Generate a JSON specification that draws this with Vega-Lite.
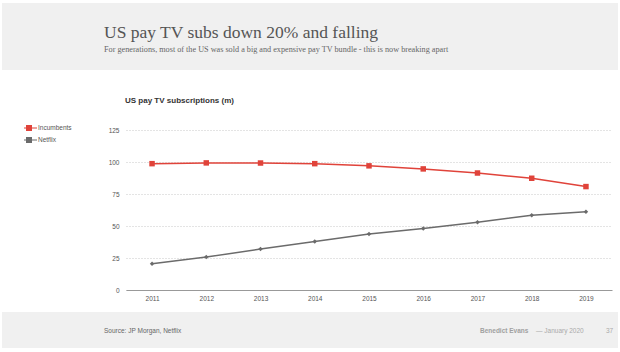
{
  "$schema": "https://vega.github.io/schema/vega-lite/v6.json",
  "background": "white",
  "padding": {"left": 2, "top": 3, "right": 2, "bottom": 4},
  "config": {
    "view": {"stroke": null},
    "font": "Liberation Sans",
    "title": {"font": "Liberation Sans"}
  },
  "spacing": 27,
  "vconcat": [
    {
      "width": 616,
      "height": 67,
      "view": {"fill": "#f0f0f0", "stroke": null},
      "title": {
        "text": "US pay TV subs down 20% and falling",
        "subtitle": "For generations, most of the US was sold a big and expensive pay TV bundle - this is now breaking apart",
        "anchor": "start",
        "frame": "group",
        "orient": "top",
        "offset": -50.5,
        "dx": 102,
        "font": "Liberation Serif",
        "fontSize": 17.5,
        "fontWeight": "normal",
        "color": "#555555",
        "subtitleFont": "Liberation Serif",
        "subtitleFontSize": 8.2,
        "subtitleColor": "#666666",
        "subtitlePadding": 5
      },
      "data": {"values": [{}]},
      "mark": {"type": "text"},
      "encoding": {"text": {"value": ""}}
    },
    {
      "spacing": 10,
      "vconcat": [
        {
          "spacing": 0,
          "hconcat": [
            {
              "width": 106,
              "height": 1,
              "data": {"values": [{}]},
              "mark": {"type": "text"},
              "encoding": {"text": {"value": ""}}
            },
            {
              "width": 486,
              "height": 160,
              "title": {
                "text": "US pay TV subscriptions (m)",
                "anchor": "start",
                "frame": "group",
                "fontSize": 8,
                "fontWeight": "bold",
                "color": "#333333",
                "offset": 22,
                "dx": -1
              },
              "data": {
                "values": [
                  {"year": "2011", "series": "Incumbents", "value": 98.7},
                  {"year": "2012", "series": "Incumbents", "value": 99.3},
                  {"year": "2013", "series": "Incumbents", "value": 99.2},
                  {"year": "2014", "series": "Incumbents", "value": 98.7},
                  {"year": "2015", "series": "Incumbents", "value": 97.0},
                  {"year": "2016", "series": "Incumbents", "value": 94.6},
                  {"year": "2017", "series": "Incumbents", "value": 91.4},
                  {"year": "2018", "series": "Incumbents", "value": 87.3},
                  {"year": "2019", "series": "Incumbents", "value": 80.8},
                  {"year": "2011", "series": "Netflix", "value": 20.5},
                  {"year": "2012", "series": "Netflix", "value": 25.7},
                  {"year": "2013", "series": "Netflix", "value": 32.0},
                  {"year": "2014", "series": "Netflix", "value": 37.9},
                  {"year": "2015", "series": "Netflix", "value": 43.7},
                  {"year": "2016", "series": "Netflix", "value": 48.1},
                  {"year": "2017", "series": "Netflix", "value": 53.0},
                  {"year": "2018", "series": "Netflix", "value": 58.4},
                  {"year": "2019", "series": "Netflix", "value": 61.1}
                ]
              },
              "encoding": {
                "x": {
                  "field": "year",
                  "type": "ordinal",
                  "scale": {"type": "point", "padding": 0.48},
                  "axis": {
                    "title": null,
                    "labelAngle": 0,
                    "ticks": false,
                    "labelPadding": 5,
                    "labelFontSize": 6.5,
                    "labelColor": "#555555",
                    "domainColor": "#999999",
                    "domainWidth": 1,
                    "grid": false
                  }
                },
                "y": {
                  "field": "value",
                  "type": "quantitative",
                  "scale": {"domain": [0, 125], "nice": false},
                  "axis": {
                    "title": null,
                    "values": [0, 25, 50, 75, 100, 125],
                    "domain": false,
                    "ticks": false,
                    "labelPadding": 7,
                    "labelFontSize": 6.5,
                    "labelColor": "#555555",
                    "gridColor": "#c8c8c8",
                    "gridDash": [1, 2],
                    "gridWidth": 1
                  }
                },
                "color": {
                  "field": "series",
                  "type": "nominal",
                  "scale": {"domain": ["Incumbents", "Netflix"], "range": ["#e0433a", "#6b6b6b"]},
                  "legend": {
                    "title": null,
                    "orient": "none",
                    "legendX": 22,
                    "legendY": 121,
                    "padding": 0,
                    "symbolType": "M-2,0L2,0M-0.6,-0.6L0.6,-0.6L0.6,0.6L-0.6,0.6Z",
                    "symbolSize": 64,
                    "symbolStrokeWidth": 1.2,
                    "labelFontSize": 6.5,
                    "labelColor": "#555555",
                    "labelOffset": 4,
                    "clipHeight": 8,
                    "rowPadding": 4
                  }
                }
              },
              "layer": [
                {"mark": {"type": "line", "strokeWidth": 1.5}},
                {
                  "transform": [{"filter": "datum.series === 'Incumbents'"}],
                  "mark": {"type": "point", "filled": true, "opacity": 1, "shape": "square", "size": 30}
                },
                {
                  "transform": [{"filter": "datum.series === 'Netflix'"}],
                  "mark": {"type": "point", "filled": true, "opacity": 1, "shape": "diamond", "size": 20}
                }
              ]
            }
          ]
        },
        {
          "spacing": 0,
          "hconcat": [
            {
              "width": 478,
              "height": 36,
              "view": {"fill": "#f0f0f0", "stroke": null},
              "title": {
                "text": "Source: JP Morgan, Netflix",
                "anchor": "start",
                "frame": "group",
                "orient": "top",
                "offset": -22,
                "dx": 102,
                "fontSize": 6.5,
                "fontWeight": "normal",
                "color": "#666666"
              },
              "data": {"values": [{}]},
              "mark": {"type": "text"},
              "encoding": {"text": {"value": ""}}
            },
            {
              "width": 54,
              "height": 36,
              "view": {"fill": "#f0f0f0", "stroke": null},
              "title": {
                "text": "Benedict Evans",
                "anchor": "start",
                "frame": "group",
                "orient": "top",
                "offset": -22,
                "dx": 0,
                "fontSize": 6.5,
                "fontWeight": "bold",
                "color": "#a0a0a0"
              },
              "data": {"values": [{}]},
              "mark": {"type": "text"},
              "encoding": {"text": {"value": ""}}
            },
            {
              "width": 72,
              "height": 36,
              "view": {"fill": "#f0f0f0", "stroke": null},
              "title": {
                "text": "— January 2020",
                "anchor": "start",
                "frame": "group",
                "orient": "top",
                "offset": -22,
                "dx": 2,
                "fontSize": 6.5,
                "fontWeight": "normal",
                "color": "#aaaaaa"
              },
              "data": {"values": [{}]},
              "mark": {"type": "text"},
              "encoding": {"text": {"value": ""}}
            },
            {
              "width": 12,
              "height": 36,
              "view": {"fill": "#f0f0f0", "stroke": null},
              "title": {
                "text": "37",
                "anchor": "start",
                "frame": "group",
                "orient": "top",
                "offset": -22,
                "dx": 0,
                "fontSize": 6.5,
                "fontWeight": "normal",
                "color": "#aaaaaa"
              },
              "data": {"values": [{}]},
              "mark": {"type": "text"},
              "encoding": {"text": {"value": ""}}
            }
          ]
        }
      ]
    }
  ]
}
